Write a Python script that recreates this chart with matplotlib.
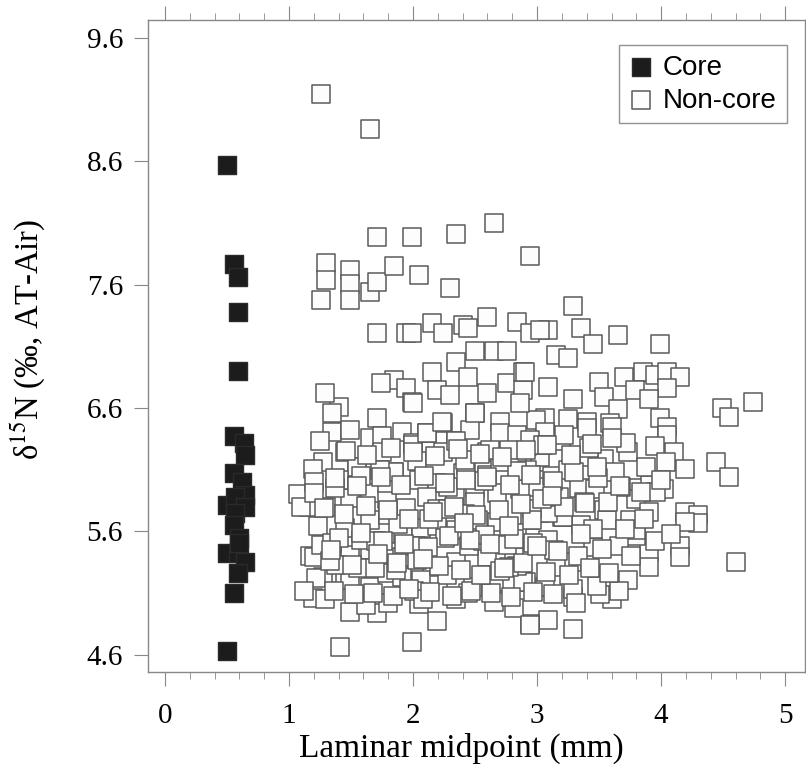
import matplotlib
matplotlib.use("Agg")
import matplotlib.pyplot as plt
from matplotlib.ticker import MultipleLocator

plt.rcParams['font.family'] = ['Liberation Serif', 'DejaVu Serif']
plt.rcParams['mathtext.fontset'] = 'stix'

# core laminae (filled squares)
core_x = [0.50, 0.56, 0.59, 0.59, 0.59,
          0.556, 0.637, 0.645, 0.556, 0.62, 0.645, 0.50, 0.565, 0.645, 0.565,
          0.556, 0.597, 0.50, 0.59, 0.645, 0.59, 0.556, 0.597, 0.50]
core_y = [8.57, 7.77, 7.66, 7.38, 6.90,
          6.375, 6.318, 6.221, 6.075, 6.002, 5.897, 5.816, 5.880, 5.799, 5.751,
          5.654, 5.548, 5.427, 5.427, 5.354, 5.265, 5.103, 5.508, 4.63]

# non-core laminae (open squares)
noncore_x = [
    1.26, 1.65,
    1.71, 1.99, 2.35, 2.65, 2.94,
    1.30, 1.30, 1.49, 1.49, 1.49, 1.26, 1.65, 1.71, 1.85, 2.05, 2.30,
    1.71, 1.94, 1.99, 2.15, 2.24, 2.40, 2.44, 2.60, 2.84, 2.94, 2.50, 2.65,
    2.76, 2.35, 2.15, 1.85, 1.74, 1.94, 1.99, 2.44, 2.19, 2.30, 2.60, 2.76,
    2.89, 2.89, 1.40, 1.35,
    3.29, 3.35, 3.09, 3.02, 3.45, 3.65, 3.99, 3.15, 3.25, 2.90, 3.09, 3.50,
    3.70, 3.85, 3.95, 4.05, 4.15, 4.05, 3.79, 3.54, 3.29, 3.90, 3.65, 4.49,
    4.55, 4.74, 3.99, 3.06, 3.25, 3.40, 3.59,
    4.44, 4.55, 3.06, 3.40, 3.60, 4.05, 4.05, 3.95, 3.73, 4.10, 4.04, 4.19,
    3.54, 3.29, 3.19, 3.02, 3.09, 3.15, 3.34, 3.47, 3.80, 3.80, 3.54, 3.90,
    3.75, 4.19, 4.30, 4.30, 4.19, 3.02, 3.20, 3.35,
    4.15, 4.15, 3.90, 3.90, 3.73, 4.60, 3.60, 3.51, 3.54, 3.29, 3.29, 3.06,
    3.09, 3.29, 2.94, 2.91, 3.45, 3.28, 3.15, 3.09, 3.80, 3.80, 3.56, 3.21,
    3.09, 2.94, 2.99, 3.06, 3.91, 2.94, 2.92,
    1.71, 2.00, 2.50, 2.70, 2.86,
    1.35, 1.49, 1.65, 1.75, 1.91, 2.00, 2.11, 2.24, 2.35, 2.46, 2.60, 2.70,
    2.84, 2.94,
    1.27, 1.45, 1.55, 1.75, 1.85, 2.05, 2.19, 2.24, 2.40, 2.50, 2.60, 2.70,
    2.84, 2.92, 3.00,
    1.15, 1.30, 1.41, 1.49, 1.65, 1.79, 1.94, 2.11, 2.19, 2.34, 2.50, 2.68,
    2.86, 2.96,
    1.23, 1.45, 1.65, 1.80, 1.92, 2.06, 2.19, 2.35, 2.52, 2.68, 2.84, 2.96,
    1.30, 1.49, 1.65, 1.80, 1.91, 2.15, 2.35, 2.60, 2.81, 2.97,
    1.27, 1.45, 1.65, 1.79, 1.91, 2.06, 2.35, 2.48, 2.65, 2.89,
    1.19, 1.29, 1.49, 1.71, 1.80, 2.05, 2.19, 2.35, 2.65, 2.81, 2.94,
    1.41, 1.99,
    1.19, 1.55, 1.40, 1.79, 1.85, 2.00, 2.11, 2.23, 2.35, 2.50, 2.84, 2.13,
    2.26, 2.45, 2.56, 2.70, 2.84, 1.25, 1.07, 1.10, 1.17, 1.22, 1.12,
    1.20, 1.29, 1.20, 1.20, 1.26, 1.35, 1.49,
    1.58, 1.70, 1.88, 2.02, 2.28, 2.42, 2.58, 2.76, 1.37, 1.58, 1.73, 2.03,
    2.28, 2.43, 2.57, 2.77, 1.38, 1.56, 1.86, 2.01, 2.27, 2.44, 2.77, 3.12,
    3.25, 3.42, 3.63, 3.88, 4.02, 3.14, 3.33, 3.45, 3.66, 3.95, 4.08, 3.18,
    3.38, 3.68, 3.96, 3.72, 3.60, 3.42, 3.22, 3.05, 2.62, 2.42, 2.08, 1.62,
    # extra reads from the dense middle of the cloud
    1.36, 1.52, 1.68, 1.84, 1.97, 2.14, 2.31, 2.47, 2.63, 2.79, 2.97, 3.13,
    3.31, 3.48, 3.66, 1.33, 1.51, 1.69, 1.87, 2.03, 2.21, 2.39, 2.55, 2.73,
    2.89, 3.07, 3.26, 3.43, 3.58, 3.76, 1.40, 1.58, 1.76, 1.93, 2.12, 2.29,
    2.46, 2.62, 2.81, 3.00, 3.17, 3.35, 3.52, 3.71, 3.86, 1.28, 1.44, 1.62,
    1.80, 1.97, 2.16, 2.33, 2.51, 2.69, 2.87, 3.04, 3.22, 3.39, 3.57, 1.37,
    1.55, 1.74, 1.90, 2.09, 2.26, 2.43, 2.60, 2.78, 2.95, 3.13, 3.30, 3.49,
    3.67, 3.84, 4.00, 1.46, 1.63, 1.82, 2.00, 2.18, 2.36, 2.54, 2.72, 2.91,
    3.08, 3.27, 3.44, 1.34, 1.72, 2.08, 2.41, 2.77, 3.12, 3.48,
]
noncore_y = [
    9.15, 8.86,
    7.99, 7.99, 8.01, 8.10, 7.83,
    7.78, 7.64, 7.72, 7.61, 7.48, 7.48, 7.54, 7.62, 7.75, 7.68, 7.57,
    7.21, 7.21, 7.21, 7.29, 7.21, 7.27, 7.25, 7.34, 7.30, 7.21, 7.06, 7.06,
    7.06, 6.97, 6.89, 6.83, 6.80, 6.76, 6.65, 6.85, 6.75, 6.71, 6.72, 6.80,
    6.89, 6.75, 6.61, 6.56,
    7.43, 7.25, 7.23, 7.23, 7.12, 7.19, 7.12, 7.03, 7.01, 6.89, 6.77, 6.81,
    6.85, 6.89, 6.87, 6.89, 6.85, 6.76, 6.75, 6.69, 6.67, 6.67, 6.59, 6.60,
    6.53, 6.65, 6.52, 6.52, 6.51, 6.49, 6.48,
    6.16, 6.04, 6.40, 6.44, 6.45, 6.45, 6.38, 6.29, 6.24, 6.24, 6.16, 6.11,
    6.19, 6.15, 6.33, 6.20, 6.02, 5.87, 5.95, 5.94, 5.95, 5.86, 5.77, 5.76,
    5.69, 5.76, 5.73, 5.67, 5.68, 5.75, 5.72, 5.65,
    5.48, 5.39, 5.43, 5.31, 5.21, 5.35, 5.05, 5.09, 5.23, 5.07, 5.13, 5.15,
    4.88, 4.81, 4.85, 5.19, 5.47, 5.35, 5.31, 5.53, 5.56, 5.61, 5.69, 5.72,
    5.75, 5.69, 6.50, 6.41, 5.98, 5.98, 6.29,
    6.52, 6.64, 6.56, 6.49, 6.64,
    6.41, 6.42, 6.36, 6.37, 6.41, 6.32, 6.40, 6.48, 6.33, 6.42, 6.24, 6.40,
    6.38, 6.34,
    6.16, 6.24, 6.12, 6.24, 6.08, 6.02, 5.99, 6.24, 6.07, 5.95, 6.06, 6.16,
    6.20, 6.10, 5.96,
    5.80, 5.80, 5.98, 5.87, 5.91, 5.86, 5.79, 5.88, 5.78, 5.88, 5.84, 5.91,
    5.94, 5.78,
    5.64, 5.63, 5.69, 5.73, 5.57, 5.63, 5.64, 5.61, 5.69, 5.68, 5.59, 5.69,
    5.48, 5.41, 5.45, 5.43, 5.39, 5.31, 5.35, 5.39, 5.39, 5.51,
    5.23, 5.21, 5.15, 5.26, 5.23, 5.21, 5.17, 5.15, 5.19, 5.19,
    5.06, 5.05, 4.95, 4.94, 5.02, 5.01, 4.87, 5.05, 5.03, 4.98, 4.84,
    4.66, 4.70,
    6.11, 6.12, 6.02, 5.99, 6.08, 6.30, 6.40, 6.49, 6.33, 6.56, 6.09, 5.70,
    5.55, 5.48, 5.52, 5.28, 5.32, 6.33, 5.90, 5.80, 5.40, 5.22, 5.12,
    6.00, 6.72, 5.91, 5.39, 5.49, 5.51, 5.21,
    5.53, 5.52, 5.66, 5.48, 5.78, 5.74, 5.57, 5.49, 5.95, 6.05, 6.10, 6.17,
    5.96, 6.14, 6.01, 6.26, 5.33, 5.30, 5.29, 5.12, 5.25, 5.10, 5.31, 6.05,
    6.10, 6.20, 6.08, 6.12, 5.94, 5.45, 5.40, 5.62, 5.48, 5.52, 5.58, 5.88,
    5.84, 5.96, 5.92, 6.32, 6.36, 6.28, 6.38, 6.30, 6.26, 6.18, 5.05, 5.00,
    # extra reads from the dense middle of the cloud
    5.12, 5.09, 5.10, 5.08, 5.13, 5.11, 5.08, 5.12, 5.10, 5.07, 5.11, 5.09,
    5.02, 5.16, 5.12, 5.36, 5.33, 5.30, 5.34, 5.37, 5.32, 5.29, 5.25, 5.30,
    5.34, 5.27, 5.25, 5.30, 5.26, 5.40, 5.55, 5.59, 5.52, 5.50, 5.47, 5.56,
    5.53, 5.50, 5.54, 5.48, 5.44, 5.58, 5.46, 5.62, 5.70, 5.79, 5.74, 5.81,
    5.77, 5.70, 5.76, 5.80, 5.73, 5.77, 5.82, 5.86, 5.80, 5.83, 5.84, 6.03,
    5.97, 6.04, 5.98, 6.05, 5.99, 6.02, 6.04, 5.98, 6.06, 6.01, 6.08, 6.03,
    5.97, 5.92, 6.02, 6.25, 6.22, 6.28, 6.24, 6.21, 6.27, 6.23, 6.20, 6.26,
    6.30, 6.22, 6.31, 5.45, 5.42, 5.38, 5.67, 5.64, 5.89, 6.12,
]

fig = plt.figure(figsize=(8.06, 7.72), dpi=100)
ax = fig.add_axes([0.1836, 0.1295, 0.8152, 0.8445])

ax.scatter(noncore_x, noncore_y, marker='s', s=175, facecolor='#fdfdfd',
           edgecolor='#5a5a5a', linewidth=1.1, label='Non-core', zorder=3)
ax.scatter(core_x, core_y, marker='s', s=175, facecolor='#1c1c1c',
           edgecolor='#2a2a2a', linewidth=1.0, label='Core', zorder=4)

ax.set_xlim(-0.137, 5.16)
ax.set_ylim(4.46, 9.746)
ax.set_xticks([0, 1, 2, 3, 4, 5])
ax.xaxis.set_minor_locator(MultipleLocator(0.2))
ax.set_yticks([4.6, 5.6, 6.6, 7.6, 8.6, 9.6])

for s in ax.spines.values():
    s.set_color('#888888')
    s.set_linewidth(1.0)
ax.tick_params(axis='x', which='both', direction='out', top=True, bottom=True,
               color='#888888', labelsize=21, pad=12)
ax.tick_params(axis='x', which='major', length=10)
ax.tick_params(axis='x', which='minor', length=5)
ax.tick_params(axis='y', which='both', direction='out', left=True, right=True,
               color='#888888', labelsize=21, length=10, pad=8)

ax.set_xlabel('Laminar midpoint (mm)', fontsize=24)
ax.xaxis.set_label_coords(0.477, -0.093)
ax.set_ylabel(r'δ$^{15}$N (‰, AT-Air)', fontsize=23.5)
ax.yaxis.set_label_coords(-0.152, 0.51)

handles, labels = ax.get_legend_handles_labels()
leg = ax.legend(handles[::-1], labels[::-1], loc='upper right',
                bbox_to_anchor=(0.972, 0.962), prop={'family': 'Liberation Sans', 'size': 20},
                frameon=True, fancybox=False, handletextpad=0.35, borderpad=0.35,
                labelspacing=0.25, handlelength=0.9, borderaxespad=0.0)
leg.get_frame().set_edgecolor('#777777')
leg.get_frame().set_linewidth(1.0)

fig.savefig('out.png', dpi=100)
